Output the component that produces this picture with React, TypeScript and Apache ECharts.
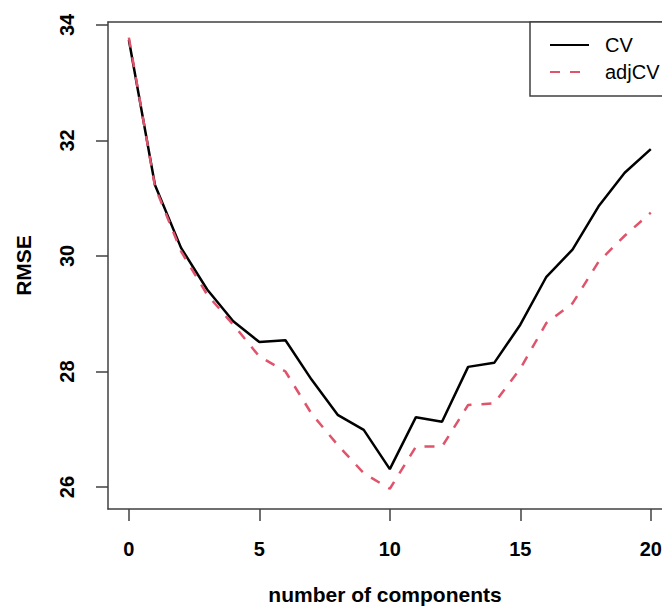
import React, { useEffect, useRef } from "react";
import * as echarts from "echarts";

const components = [0, 1, 2, 3, 4, 5, 6, 7, 8, 9, 10, 11, 12, 13, 14, 15, 16, 17, 18, 19, 20];
const cvValues = [33.74, 31.23, 30.14, 29.42, 28.87, 28.51, 28.54, 27.86, 27.25, 26.99, 26.31, 27.21, 27.13, 28.08, 28.15, 28.81, 29.64, 30.11, 30.86, 31.44, 31.85];
const adjCvValues = [33.78, 31.2, 30.08, 29.33, 28.81, 28.26, 28.0, 27.27, 26.73, 26.24, 25.97, 26.7, 26.7, 27.42, 27.45, 28.05, 28.84, 29.18, 29.9, 30.35, 30.75];
const xTicks = [0, 5, 10, 15, 20];
const yTicks = [26, 28, 30, 32, 34];
const seriesNames = ["CV", "adjCV"];

const FONT = "'Liberation Sans', Arial, sans-serif";
const AXIS_COLOR = "#404040";

export default function App() {
  const ref = useRef<HTMLDivElement>(null);

  useEffect(() => {
    if (!ref.current) return;
    const chart = echarts.init(ref.current, undefined, { renderer: "svg" });
    const boxLine = { show: true, onZero: false, lineStyle: { color: AXIS_COLOR, width: 1.5 } };
    chart.setOption({
      animation: false,
      backgroundColor: "#ffffff",
      textStyle: { fontFamily: FONT },
      grid: { left: 108, top: 22, right: 0, bottom: 98, containLabel: false, outerBoundsMode: "none" },
      legend: {
        orient: "vertical",
        left: 530,
        top: 22,
        data: seriesNames,
        backgroundColor: "#ffffff",
        borderColor: AXIS_COLOR,
        borderWidth: 1.5,
        borderRadius: 0,
        padding: [13, 20, 14, 19],
        itemWidth: 39,
        itemHeight: 20,
        itemGap: 7,
        itemStyle: { opacity: 0 },
        textStyle: { fontFamily: FONT, fontSize: 20, color: "#000", padding: [0, 0, 0, 11] },
      },
      xAxis: [
        {
          type: "value",
          min: -0.8,
          max: 20.43,
          position: "bottom",
          name: "number of components",
          nameLocation: "middle",
          nameGap: 75,
          nameTextStyle: { fontFamily: FONT, fontSize: 21, fontWeight: "bold", color: "#000" },
          axisLine: boxLine,
          axisTick: { show: true, length: 12, customValues: xTicks, lineStyle: { color: AXIS_COLOR, width: 1.5 } },
          axisLabel: { customValues: xTicks, margin: 30, fontFamily: FONT, fontSize: 20, fontWeight: "bold", color: "#000" },
          splitLine: { show: false },
        },
        {
          type: "value",
          min: -0.8,
          max: 20.43,
          position: "top",
          axisLine: boxLine,
          axisTick: { show: false },
          axisLabel: { show: false },
          splitLine: { show: false },
        },
      ],
      yAxis: {
        type: "value",
        min: 25.62,
        max: 34.05,
        name: "RMSE",
        nameLocation: "middle",
        nameGap: 74,
        nameTextStyle: { fontFamily: FONT, fontSize: 21, fontWeight: "bold", color: "#000" },
        axisLine: boxLine,
        axisTick: { show: true, length: 12, customValues: yTicks, lineStyle: { color: AXIS_COLOR, width: 1.5 } },
        axisLabel: { customValues: yTicks, rotate: 90, margin: 31, fontFamily: FONT, fontSize: 20, fontWeight: "bold", color: "#000" },
        splitLine: { show: false },
      },
      series: [
        {
          name: seriesNames[0],
          type: "line",
          xAxisIndex: 0,
          data: components.map((c, i) => [c, cvValues[i]]),
          showSymbol: false,
          symbol: "none",
          color: "#000000",
          lineStyle: { color: "#000000", width: 2.5 },
        },
        {
          name: seriesNames[1],
          type: "line",
          xAxisIndex: 0,
          data: components.map((c, i) => [c, adjCvValues[i]]),
          showSymbol: false,
          symbol: "none",
          color: "#DF536B",
          lineStyle: { color: "#DF536B", width: 2.5, type: [10, 10] },
        },
      ],
    });
    return () => chart.dispose();
  }, []);

  return (
    <div
      ref={ref}
      style={{ position: "fixed", left: 0, top: 0, width: 662, height: 607, background: "#fff" }}
    />
  );
}
